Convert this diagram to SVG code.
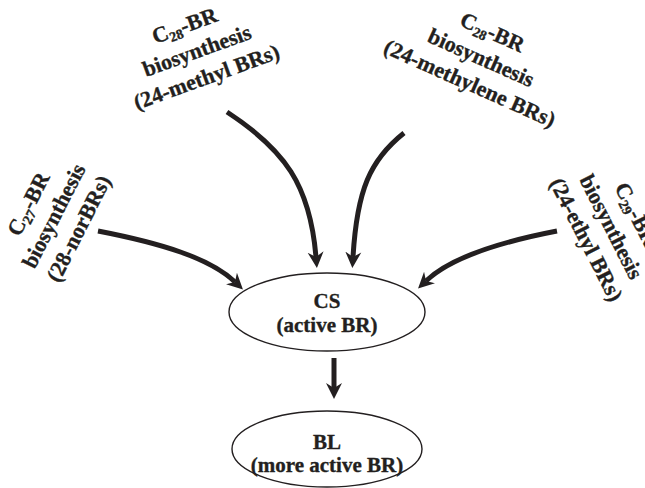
<svg xmlns="http://www.w3.org/2000/svg" width="645" height="488" viewBox="0 0 645 488">
<style>
.t{font-family:"Liberation Serif","Times New Roman",serif;font-weight:bold;font-size:22px;fill:#231f20;stroke:#231f20;stroke-width:0.35;text-anchor:middle}
.n{font-family:"Liberation Serif","Times New Roman",serif;font-weight:bold;font-size:21px;fill:#231f20;stroke:#231f20;stroke-width:0.35;text-anchor:middle}
.sub{font-size:14px}
.e{fill:#fff;stroke:#231f20;stroke-width:1.4}
.c{fill:none;stroke:#231f20;stroke-width:5}
</style>
<defs>
<marker id="ah" markerUnits="userSpaceOnUse" markerWidth="18" markerHeight="18" refX="5" refY="8" orient="auto" viewBox="0 0 18 16">
<path d="M0,0 L16,8 L0,16 L5,8 z" fill="#231f20"/>
</marker>
</defs>
<g id="connectors">
<path class="c" d="M227,112 C285,150 310,185 316,257" marker-end="url(#ah)"/>
<path class="c" d="M404,133 C370,160 357,190 353,257" marker-end="url(#ah)"/>
<path class="c" d="M98,231 C160,243 210,258 235,282" marker-end="url(#ah)"/>
<path class="c" d="M557,231 C500,242 450,258 426,281" marker-end="url(#ah)"/>
<path class="c" d="M334,358 L334,388" marker-end="url(#ah)"/>
</g>
<g id="cs">
<ellipse class="e" cx="327" cy="312" rx="98" ry="39"/>
<text class="n" x="327" y="308">CS</text>
<text class="n" x="327" y="332">(active BR)</text>
</g>
<g id="bl">
<ellipse class="e" cx="327" cy="449" rx="95" ry="38"/>
<text class="n" x="327" y="449">BL</text>
<text class="n" x="327" y="472">(more active BR)</text>
</g>
<g id="c28a" transform="translate(197,51) rotate(-20)">
<text class="t" x="-3" y="-21">C<tspan class="sub" dy="4">28</tspan><tspan dy="-4">-BR</tspan></text>
<text class="t" x="0" y="7">biosynthesis</text>
<text class="t" x="0" y="35">(24-methyl BRs)</text>
</g>
<g id="c28b" transform="translate(481,58) rotate(24)">
<text class="t" x="0" y="-21">C<tspan class="sub" dy="4">28</tspan><tspan dy="-4">-BR</tspan></text>
<text class="t" x="0" y="7">biosynthesis</text>
<text class="t" x="0" y="35">(24-methylene BRs)</text>
</g>
<g id="c27" transform="translate(54,216) rotate(-63)">
<text class="t" x="-1" y="-21">C<tspan class="sub" dy="4">27</tspan><tspan dy="-4">-BR</tspan></text>
<text class="t" x="0" y="7">biosynthesis</text>
<text class="t" x="0" y="35">(28-norBRs)</text>
</g>
<g id="c29" transform="translate(611,227) rotate(63)">
<text class="t" x="0" y="-21">C<tspan class="sub" dy="4">29</tspan><tspan dy="-4">-BR</tspan></text>
<text class="t" x="0" y="7">biosynthesis</text>
<text class="t" x="0" y="35">(24-ethyl BRs)</text>
</g>
</svg>
